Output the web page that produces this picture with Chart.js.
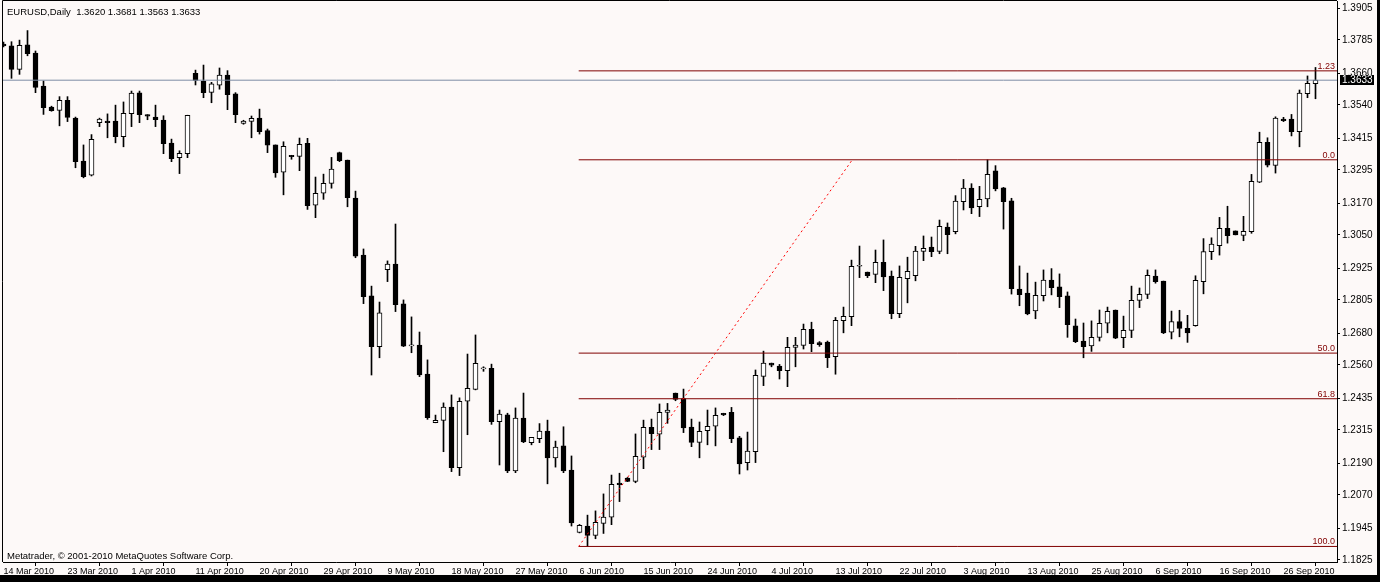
<!DOCTYPE html>
<html><head><meta charset="utf-8">
<script src="https://cdn.jsdelivr.net/npm/chart.js@4.4.1/dist/chart.umd.min.js"></script>
<style>
html,body{margin:0;padding:0;background:#000;width:1380px;height:582px;overflow:hidden;}
#wrap{position:absolute;left:0;top:0;width:1377px;height:575px;background:#fdf9f8;}
canvas{display:block;}
</style></head><body>
<div id="wrap"><canvas id="c" width="1377" height="575"></canvas></div>
<script>
const chartTitle = 'EURUSD,Daily  1.3620 1.3681 1.3563 1.3633';
const copyright = 'Metatrader, \u00a9 2001-2010 MetaQuotes Software Corp.';

const opens = [
1.3769,1.3762,1.3674,1.3766,1.3735,1.3611,1.3532,1.3519,1.3557,1.3490,
1.3328,1.3275,1.3473,1.3479,1.3479,1.3420,1.3507,1.3585,1.3503,1.3494,
1.3483,1.3396,1.3341,1.3356,1.3659,1.3630,1.3587,1.3614,1.3652,1.3582,
1.3470,1.3478,1.3490,1.3443,1.3389,1.3286,1.3350,1.3346,1.3395,1.3162,
1.3207,1.3244,1.3360,1.3332,1.3189,1.2974,1.2820,1.2629,1.2919,1.2940,
1.2790,1.2632,1.2635,1.2526,1.2342,1.2351,1.2401,1.2173,1.2423,1.2468,
1.2545,1.2547,1.2346,1.2372,1.2161,1.2360,1.2267,1.2282,1.2311,1.2210,
1.2255,1.2164,1.1929,1.1953,1.1918,1.1963,1.1986,1.2115,1.2134,1.2121,
1.2212,1.2325,1.2299,1.2381,1.2454,1.2433,1.2326,1.2268,1.2312,1.2329,
1.2378,1.2381,1.2285,1.2192,1.2233,1.2517,1.2567,1.2556,1.2538,1.2626,
1.2634,1.2694,1.2644,1.2646,1.2591,1.2727,1.2742,1.2932,1.2910,1.2901,
1.2947,1.2895,1.2753,1.2885,1.2896,1.2988,1.3004,1.2988,1.3079,1.3062,
1.3175,1.3226,1.3156,1.3186,1.3291,1.3227,1.3178,1.2846,1.2831,1.2764,
1.2821,1.2880,1.2854,1.2820,1.2707,1.2650,1.2632,1.2664,1.2717,1.2767,
1.2663,1.2690,1.2803,1.2826,1.2895,1.2876,1.2683,1.2723,1.2698,1.2708,
1.2874,1.2987,1.3009,1.3075,1.3065,1.3048,1.3062,1.3249,1.3399,1.3312,
1.3486,1.3486,1.3439,1.3582,1.3620];
const highs = [
1.3777,1.3778,1.3784,1.3820,1.3743,1.3630,1.3535,1.3571,1.3571,1.3494,
1.3389,1.3428,1.3490,1.3506,1.3539,1.3551,1.3592,1.3592,1.3503,1.3539,
1.3499,1.3411,1.3367,1.3501,1.3671,1.3690,1.3625,1.3679,1.3669,1.3586,
1.3482,1.3498,1.3524,1.3449,1.3389,1.3401,1.3350,1.3415,1.3414,1.3268,
1.3279,1.3342,1.3362,1.3332,1.3215,1.2997,1.2857,1.2797,1.2952,1.3091,
1.2805,1.2741,1.2684,1.2579,1.2371,1.2417,1.2447,1.2436,1.2601,1.2673,
1.2553,1.2563,1.2390,1.2378,1.2398,1.2454,1.2287,1.2339,1.2352,1.2273,
1.2327,1.2217,1.1959,1.1994,1.2010,1.2074,1.2145,1.2152,1.2136,1.2300,
1.2352,1.2356,1.2413,1.2415,1.2454,1.2469,1.2356,1.2345,1.2390,1.2398,
1.2378,1.2400,1.2291,1.2307,1.2541,1.2612,1.2567,1.2562,1.2664,1.2664,
1.2714,1.2721,1.2648,1.2650,1.2739,1.2778,1.2955,1.3008,1.2910,1.2993,
1.3031,1.2914,1.2933,1.2966,1.3007,1.3046,1.3042,1.3106,1.3095,1.3198,
1.3259,1.3243,1.3233,1.3333,1.3311,1.3229,1.3188,1.2933,1.2906,1.2872,
1.2918,1.2923,1.2903,1.2835,1.2733,1.2718,1.2726,1.2767,1.2778,1.2767,
1.2744,1.2857,1.2850,1.2918,1.2918,1.2876,1.2763,1.2766,1.2747,1.2896,
1.3036,1.3039,1.3116,1.3158,1.3065,1.3120,1.3278,1.3437,1.3416,1.3495,
1.3493,1.3504,1.3596,1.3649,1.3681];
const lows = [
1.3758,1.3640,1.3655,1.3725,1.3586,1.3504,1.3516,1.3461,1.3477,1.3303,
1.3265,1.3272,1.3458,1.3416,1.3397,1.3382,1.3458,1.3473,1.3484,1.3458,
1.3356,1.3326,1.3281,1.3341,1.3615,1.3567,1.3548,1.3599,1.3522,1.3473,
1.3467,1.3416,1.3430,1.3360,1.3267,1.3201,1.3335,1.3292,1.3146,1.3115,
1.3184,1.3226,1.3326,1.3156,1.2964,1.2791,1.2522,1.2587,1.2874,1.2761,
1.2629,1.2606,1.2516,1.2355,1.2342,1.2233,1.2158,1.2143,1.2297,1.2466,
1.2536,1.2336,1.2183,1.2154,1.2154,1.2267,1.2259,1.2267,1.2112,1.2175,
1.2154,1.1953,1.1927,1.1876,1.1905,1.1925,1.1958,1.2045,1.2120,1.2116,
1.2169,1.2241,1.2241,1.2340,1.2425,1.2305,1.2252,1.2210,1.2259,1.2255,
1.2369,1.2267,1.2149,1.2164,1.2192,1.2482,1.2553,1.2507,1.2478,1.2553,
1.2620,1.2610,1.2630,1.2550,1.2525,1.2681,1.2708,1.2889,1.2889,1.2870,
1.2840,1.2734,1.2738,1.2794,1.2877,1.2953,1.2968,1.2979,1.2979,1.3054,
1.3144,1.3130,1.3119,1.3156,1.3216,1.3072,1.2827,1.2783,1.2749,1.2734,
1.2801,1.2824,1.2776,1.2664,1.2644,1.2587,1.2611,1.2650,1.2681,1.2659,
1.2625,1.2663,1.2776,1.2810,1.2868,1.2678,1.2658,1.2666,1.2645,1.2706,
1.2828,1.2957,1.2974,1.3019,1.3050,1.3028,1.3056,1.3247,1.3306,1.3283,
1.3477,1.3423,1.3382,1.3567,1.3563];
const closes = [
1.3762,1.3674,1.3764,1.3733,1.3606,1.3529,1.3518,1.3557,1.3493,1.3326,
1.3269,1.3410,1.3486,1.3473,1.3420,1.3508,1.3584,1.3503,1.3497,1.3484,
1.3394,1.3337,1.3357,1.3501,1.3632,1.3586,1.3619,1.3652,1.3578,1.3503,
1.3479,1.3489,1.3439,1.3388,1.3284,1.3384,1.3345,1.3391,1.3160,1.3207,
1.3244,1.3298,1.3330,1.3190,1.2970,1.2817,1.2629,1.2756,1.2940,1.2787,
1.2631,1.2632,1.2522,1.2361,1.2351,1.2401,1.2173,1.2423,1.2472,1.2566,
1.2545,1.2346,1.2375,1.2161,1.2360,1.2270,1.2287,1.2311,1.2210,1.2250,
1.2161,1.1965,1.1956,1.1918,1.1967,1.1987,1.2110,1.2109,1.2121,1.2216,
1.2325,1.2301,1.2381,1.2390,1.2430,1.2323,1.2268,1.2310,1.2329,1.2370,
1.2372,1.2282,1.2187,1.2235,1.2521,1.2567,1.2559,1.2538,1.2626,1.2635,
1.2694,1.2640,1.2636,1.2587,1.2728,1.2743,1.2932,1.2932,1.2896,1.2947,
1.2892,1.2753,1.2890,1.2913,1.2989,1.2999,1.2987,1.3082,1.3051,1.3177,
1.3226,1.3152,1.3184,1.3278,1.3223,1.3175,1.2847,1.2825,1.2752,1.2822,
1.2880,1.2851,1.2817,1.2712,1.2648,1.2629,1.2664,1.2717,1.2762,1.2661,
1.2690,1.2803,1.2826,1.2898,1.2874,1.2681,1.2723,1.2698,1.2681,1.2879,
1.2987,1.3015,1.3075,1.3047,1.3050,1.3063,1.3252,1.3399,1.3313,1.3490,
1.3480,1.3439,1.3584,1.3621,1.3633];

const xTickEvery = 8;
const xTickLabels = ['14 Mar 2010','23 Mar 2010','1 Apr 2010','11 Apr 2010','20 Apr 2010','29 Apr 2010',
 '9 May 2010','18 May 2010','27 May 2010','6 Jun 2010','15 Jun 2010','24 Jun 2010','4 Jul 2010',
 '13 Jul 2010','22 Jul 2010','3 Aug 2010','13 Aug 2010','25 Aug 2010','6 Sep 2010','16 Sep 2010','26 Sep 2010'];
const yTickLabels = ['1.3905','1.3785','1.3660','1.3540','1.3415','1.3295','1.3170','1.3050','1.2925',
 '1.2805','1.2680','1.2560','1.2435','1.2315','1.2190','1.2070','1.1945','1.1825'];

const fibHigh = 1.3333, fibLow = 1.1876;
const fibRatios = [-0.23, 0, 0.5, 0.618, 1];
const fibLabels = ['1.23','0.0','50.0','61.8','100.0'];
const fibStartBar = 71.9, fibEndBar = 106.1;

const Y_MIN = 1.18174, Y_MAX = 1.39314;
const X_MIN = -0.0625, X_MAX = 166.6875;

Chart.defaults.font.family = '"Liberation Sans", Arial, sans-serif';

const idx = opens.map((_, i) => i);
const lastClose = closes[closes.length - 1];
const fibPrices = fibRatios.map(r => fibHigh - r * (fibHigh - fibLow));

const datasets = [];
fibPrices.forEach((p) => {
  datasets.push({type:'line', data:[{x:fibStartBar, y:p},{x:X_MAX, y:p}], borderColor:'#800000',
    borderWidth:1, pointRadius:0, fill:false, order:-1});
});
datasets.push({type:'line', data:[{x:X_MIN, y:lastClose},{x:X_MAX, y:lastClose}], borderColor:'#7d8da6',
  borderWidth:1, pointRadius:0, fill:false, order:-1});
datasets.push({type:'line', data:[{x:fibStartBar, y:fibLow},{x:fibEndBar, y:fibHigh}], borderColor:'#ff0000',
  borderWidth:1, borderDash:[2,3], pointRadius:0, fill:false, order:-2});
datasets.push({type:'bar', data: idx.map(i => ({x:i, y:[lows[i], highs[i]]})),
  backgroundColor:'#000', borderWidth:0, barThickness:1, minBarLength:1, grouped:false, order:2});
datasets.push({type:'bar', data: idx.map(i => ({x:i, y:[opens[i], closes[i]]})),
  backgroundColor: idx.map(i => closes[i] >= opens[i] ? '#ffffff' : '#000000'),
  borderColor:'#000', borderWidth:1, borderSkipped:false, barThickness:5, minBarLength:1, grouped:false, order:1});

const decor = {
  id:'decor',
  afterDraw(chart){
    const ctx = chart.ctx, a = chart.chartArea, ys = chart.scales.y;
    ctx.save();
    ctx.strokeStyle = '#000'; ctx.lineWidth = 1;
    ctx.beginPath();
    ctx.moveTo(2.5, a.bottom); ctx.lineTo(2.5, 0.5); ctx.lineTo(a.right, 0.5);
    ctx.stroke();
    ctx.fillStyle = '#000'; ctx.textBaseline = 'alphabetic'; ctx.textAlign = 'left';
    ctx.font = '9.5px "Liberation Sans", Arial, sans-serif';
    ctx.fillText(chartTitle, 7, 15);
    ctx.fillText(copyright, 7, 559);
    ctx.fillStyle = '#800000'; ctx.textAlign = 'right';
    ctx.font = '9px "Liberation Sans", Arial, sans-serif';
    fibPrices.forEach((p, k) => {
      const py = ys.getPixelForValue(p);
      ctx.fillText(fibLabels[k], a.right - 2, py - 2);
    });
    const py = Math.round(ys.getPixelForValue(lastClose));
    ctx.fillStyle = '#000';
    ctx.fillRect(a.right + 3, py - 5, 34, 10);
    ctx.fillStyle = '#fff'; ctx.textAlign = 'left'; ctx.textBaseline = 'middle';
    ctx.font = '10px "Liberation Sans", Arial, sans-serif';
    ctx.fillText(lastClose.toFixed(4), a.right + 5, py + 0.5);
    ctx.restore();
  }
};

new Chart(document.getElementById('c'), {
  type:'bar',
  data:{datasets},
  options:{
    responsive:false, animation:false, events:[],
    layout:{padding:{left:3, top:1, right:0, bottom:0}},
    plugins:{legend:{display:false}, tooltip:{enabled:false}},
    scales:{
      x:{type:'linear', min:X_MIN, max:X_MAX, offset:false,
        afterFit(s){ s.height = 13; s.paddingLeft = 0; s.paddingRight = 0; },
        afterBuildTicks(s){ s.ticks = xTickLabels.map((_, k) => ({value:k * xTickEvery})); },
        grid:{display:true, drawOnChartArea:false, drawTicks:true, tickLength:4, color:'#000'},
        border:{display:true, color:'#000'},
        ticks:{autoSkip:false, maxRotation:0, minRotation:0, align:'start', padding:0, color:'#000',
          font:{size:9}, callback:(v, k) => xTickLabels[k]}
      },
      y:{type:'linear', position:'right', min:Y_MIN, max:Y_MAX,
        afterFit(s){ s.width = 40; s.paddingTop = 0; s.paddingBottom = 0; },
        afterBuildTicks(s){ s.ticks = yTickLabels.map(t => ({value:parseFloat(t)})); },
        grid:{display:true, drawOnChartArea:false, drawTicks:true, tickLength:3, color:'#000'},
        border:{display:true, color:'#000'},
        ticks:{autoSkip:false, padding:2, color:'#000', font:{size:10}, callback:(v, k) => yTickLabels[k]}
      }
    }
  },
  plugins:[decor]
});
</script>
</body></html>
